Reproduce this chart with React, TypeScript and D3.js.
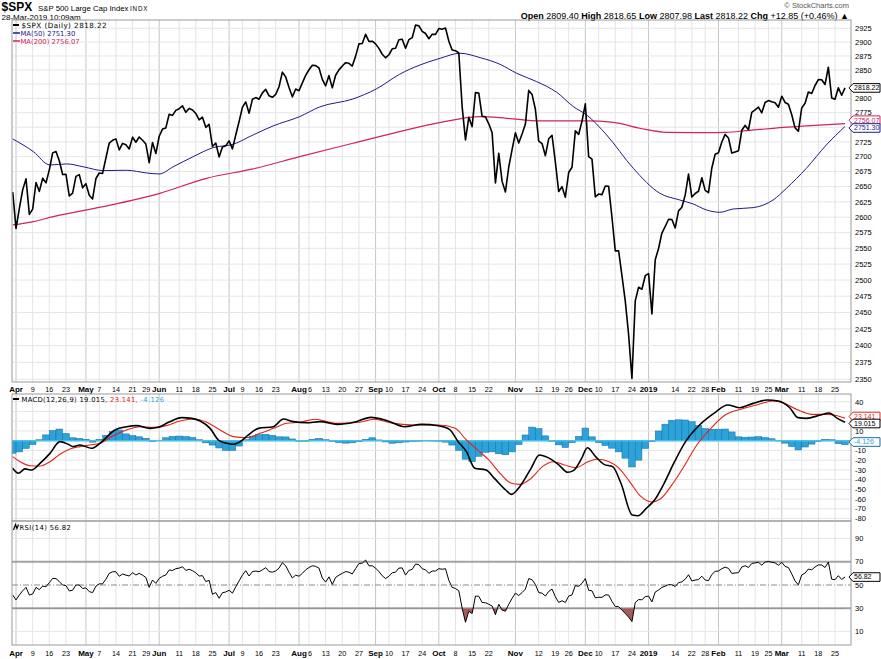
import React from "react";
import * as d3 from "d3";

// ---------------- DATA ----------------
// S&P 500 daily closes, trading-day index 0 = 29-Mar-2018 ... 250 = 28-Mar-2019
const priceClose: number[] = [
  2640.87,
  2581.88, 2614.45, 2644.69, 2662.84, 2604.47, 2613.16, 2656.87, 2642.19, 2663.99, 2656.3,
  2677.84, 2706.39, 2708.64, 2693.13, 2670.14, 2670.29, 2634.56, 2639.4, 2666.94, 2669.91, 2648.05,
  2654.8, 2635.67, 2629.73, 2663.42, 2672.63, 2671.92, 2697.79, 2723.07, 2727.72, 2730.13, 2711.45,
  2722.46, 2720.13, 2712.97, 2733.01, 2724.44, 2733.29, 2727.76, 2721.33, 2689.86, 2724.01, 2705.27,
  2734.62, 2746.87, 2748.8, 2772.35, 2770.37, 2779.03, 2782.0, 2786.85, 2775.63, 2782.49, 2779.66,
  2773.75, 2762.59, 2767.32, 2749.76, 2754.88, 2717.07, 2723.06, 2699.63, 2716.31, 2718.37,
  2726.71, 2713.22, 2736.61, 2759.82, 2784.17, 2793.84, 2774.02, 2798.29, 2801.31, 2798.43, 2809.55,
  2815.62, 2804.49, 2801.83, 2806.98, 2820.4, 2846.07, 2837.44, 2818.82, 2802.6, 2816.29,
  2813.36, 2827.22, 2840.35, 2850.4, 2858.45, 2857.7, 2853.58, 2833.28, 2821.93, 2839.96, 2818.37,
  2840.69, 2850.13, 2857.05, 2862.96, 2861.82, 2856.98, 2874.69, 2896.74, 2897.52, 2914.04, 2901.13, 2901.52,
  2896.72, 2888.6, 2878.05, 2871.68, 2877.13, 2887.89, 2888.92, 2904.18, 2904.98, 2888.8, 2904.31,
  2907.95, 2930.75, 2929.67, 2919.37, 2915.56, 2905.97, 2914.0, 2913.98,
  2924.59, 2923.43, 2925.51, 2901.61, 2885.57, 2884.43, 2880.34, 2785.68, 2728.37, 2767.13, 2750.79,
  2809.92, 2809.21, 2768.78, 2767.78, 2755.88, 2740.69, 2656.1, 2705.57, 2658.69, 2641.25, 2682.63, 2711.74,
  2740.37, 2723.06, 2738.31, 2755.45, 2813.89, 2806.83, 2781.01, 2726.22, 2722.18, 2701.58, 2730.2,
  2736.27, 2690.73, 2641.89, 2649.93, 2632.56, 2673.45, 2682.17, 2743.79, 2737.8, 2760.17,
  2790.37, 2700.06, 2695.95, 2633.08, 2637.72, 2636.78, 2651.07, 2650.54, 2599.95, 2545.94, 2546.16,
  2506.96, 2467.42, 2416.62, 2351.1, 2467.7, 2488.83, 2485.74, 2506.85,
  2510.03, 2447.89, 2531.94, 2549.69, 2574.41, 2584.96, 2596.64, 2596.26, 2582.61, 2610.3, 2616.1,
  2635.96, 2670.71, 2632.9, 2638.7, 2642.33, 2664.76, 2643.85, 2640.0, 2681.05, 2704.1,
  2706.53, 2724.87, 2737.7, 2731.61, 2706.05, 2707.88, 2709.8, 2744.73, 2753.03, 2745.73, 2775.6,
  2779.76, 2784.7, 2774.88, 2792.67, 2796.11, 2793.9, 2792.38, 2784.49,
  2803.69, 2792.81, 2789.65, 2771.45, 2748.93, 2743.07, 2783.3, 2791.52, 2810.92, 2808.48, 2822.48,
  2832.94, 2832.57, 2824.23, 2854.88, 2800.71, 2798.36, 2818.46, 2805.37, 2818.22,
];

// [trading-day index, value]
const ma50Points: [number, number][] = [
  [0, 2730], [6.2, 2708.5], [11.2, 2686], [16.2, 2687.8], [21.2, 2683], [27.2, 2676.6], [34.2, 2677.2],
  [40.2, 2672.7], [44, 2671], [48.2, 2683], [54.2, 2700], [60.2, 2715.2], [66.2, 2720.9], [72.2, 2736.8],
  [78.2, 2752.2], [86.2, 2768.3], [92.2, 2785], [102.2, 2798.9], [109.2, 2816.4], [116.2, 2842.3],
  [128.4, 2870.8], [134.4, 2879.8], [140.4, 2872], [146.4, 2860], [151.4, 2844], [157.4, 2829.3],
  [163.4, 2810.6], [168.4, 2785.6], [172.4, 2771.1], [178.4, 2736.8], [186.4, 2680.5], [194.4, 2639],
  [200.4, 2628], [204.4, 2621.5], [208.4, 2611.7], [212.4, 2608], [216.4, 2613.3], [222.4, 2615.5],
  [228.4, 2628], [232.4, 2647.2], [238.4, 2680.5], [244.4, 2719.8], [250, 2751.3],
];

const ma200Points: [number, number][] = [
  [0, 2587.4], [6.2, 2592.8], [12.2, 2600.9], [27.2, 2617.2], [44.2, 2639], [58.2, 2663.8],
  [72.2, 2679.4], [86.2, 2700], [102.2, 2722.6], [116.2, 2742.5], [128.2, 2757.9], [140.4, 2768.3],
  [148.4, 2765.4], [158.4, 2760.8], [172.4, 2760.8], [180.4, 2758.4], [188.4, 2748.2], [196.4, 2741.3],
  [208.4, 2740.8], [214.4, 2741.3], [220.4, 2744.2], [228.4, 2748.2], [238.4, 2752.2], [250, 2756.07],
];

const macdPoints: [number, number][] = [
  [0, -28.4], [1.7, -33.5], [3.7, -29], [5.7, -30.1], [8.2, -23.3], [11.2, -13], [14.2, -1], [16.7, -3.7],
  [18.2, -6.1], [20.2, -4.4], [23.7, -7.8], [26.2, -2.7], [30.7, 11], [34.2, 14.4], [37.2, 15.5],
  [41.2, 12.7], [43.8, 13.8], [46.8, 18.9], [50.8, 23.7], [53.8, 23], [56.3, 20.3], [59.3, 12.7],
  [61.8, 0.7], [64.3, -2.7], [66.3, -3.7], [68.3, -1], [70.8, 5.9], [73.8, 12.7], [78.3, 14.4],
  [81.3, 22.3], [84.3, 19.6], [88.2, 18.5], [92.4, 19.6], [97.5, 16.8], [102.5, 18.9], [107.6, 24],
  [112.7, 20.3], [117.7, 14.4], [122.8, 16.8], [127.9, 15.4], [131.2, 11.7], [133.8, -1], [136.3, -11.3],
  [138.8, -28.4], [142.2, -30.1], [144.7, -38.7], [148.1, -50.7], [149.8, -55.2], [152.3, -47.3],
  [155.7, -28.4], [158.2, -14.7], [160.8, -17.4], [164.1, -25], [166.7, -32.5], [168.4, -30.8],
  [170.9, -18.1], [172.6, -7.2], [175.1, -16.4], [177.6, -24.3], [180.2, -26.7], [182.7, -43.8],
  [186.1, -76.4], [187.8, -77.1], [190.3, -69.6], [192.8, -61], [195.4, -45.6], [198.8, -21.6],
  [202.1, -1], [206.3, 16.1], [210.6, 28.1], [214.8, 36.7], [218.2, 33.9], [222.4, 38.4], [226.6, 41.8],
  [230, 40.8], [233.4, 33.9], [235.9, 23.7], [238.4, 23], [242.6, 26.4], [245.2, 28.5], [247.7, 23],
  [250, 19.015],
];

const signalPoints: [number, number][] = [
  [0, -16.4], [2.2, -21.6], [5.2, -25.7], [8.2, -26], [11.2, -21.6], [14.2, -14], [17.2, -8.5],
  [20.2, -6.1], [23.2, -4.4], [26.2, -2.7], [30.2, 5.2], [34.2, 11], [38.2, 14.4], [42.2, 13.8],
  [46.2, 15.5], [50.3, 20.3], [54.3, 22.3], [58.3, 18.9], [62.3, 11], [66.3, 4.2], [70.3, 3.1],
  [74.3, 7.6], [78.3, 12.7], [82.3, 17.9], [86.3, 18.9], [90.7, 22], [97.5, 17.8], [104.2, 18.9],
  [108.4, 22], [114.4, 17.8], [121.1, 16.1], [127.9, 16.1], [132.9, 12.7], [136.3, 0.7], [139.7, -9.6],
  [143, -19.8], [146.4, -33.6], [149.8, -43.8], [152.3, -44.9], [155.7, -38.7], [159.1, -26.7],
  [162.4, -21.6], [165.8, -25], [169.2, -27.7], [172.6, -22], [175.5, -19], [179, -21.5], [182, -28],
  [185.3, -42], [188.6, -57], [192, -63], [194.5, -60], [197.9, -46], [201.3, -28.4], [205.5, -4.4],
  [209.7, 12.7], [214, 26.4], [219, 32.6], [224.1, 37.4], [228.3, 40.8], [231.7, 38.4], [235.9, 31.6],
  [240.1, 27.1], [244.3, 27.1], [247.7, 25.7], [250, 23.141],
];

// histogram, one bar every two trading days
const histPoints: [number, number][] = [
  [0, -13], [2, -11.5], [4, -8], [6, -4], [8, 1], [10, 6], [12, 10.5], [14, 12], [16, 7.5], [18, 3],
  [20, 2.4], [22, 1.5], [24, -1.5], [26, 1.5], [28, 5.5], [30, 9.5], [32, 11], [34, 7], [36, 5.3],
  [38, 4], [40, 2.5], [42, -0.8], [44, 0.5], [46, 3], [48, 4.4], [50, 4.8], [52, 4.3], [54, 3.3],
  [56, 1], [58, -2.2], [60, -4.5], [62, -7.5], [64, -10], [66, -10], [68, -5.5], [70, 1], [72, 4.8],
  [74, 6.2], [76, 6.6], [78, 5.5], [80, 4], [82, 3.9], [84, 1.8], [86, 0], [88, -0.2], [90, 1.5],
  [92, 2.4], [94, 1], [96, -0.8], [98, -1.9], [100, -2.5], [102, -2.2], [104, -1.1], [106, 1.5],
  [108, 3], [110, 0.8], [112, -1.3], [114, -2.6], [116, -2.2], [118, -1.4], [120, -0.8], [122, -0.2],
  [124, 0.4], [126, 0.2], [128, -0.3], [130, -1.5], [132, -4.5], [134, -10], [136, -19], [138, -21.6],
  [140, -16], [142, -12], [144, -11.5], [146, -13.5], [148, -14.5], [150, -11.5], [152, -4], [154, 5.9],
  [156, 14], [158, 12.5], [160, 5], [162, 0], [164, -4.3], [166, -7], [168, -2], [170, 4.5], [172, 13],
  [174, 4], [176, -2], [178, -5], [180, -7.7], [182, -11.5], [184, -18], [186, -27], [188, -20],
  [190, -8], [192, -1], [194, 10], [196, 17], [198, 21], [200, 21.5], [202, 21.3], [204, 19.5],
  [206, 15.5], [208, 12.5], [210, 11.8], [212, 11.8], [214, 12], [216, 9], [218, 4], [220, 3.6],
  [222, 3.8], [224, 4.2], [226, 3.2], [228, 2], [230, 0.2], [232, -2.5], [234, -6], [236, -9.5],
  [238, -6.5], [240, -3.5], [242, -0.8], [244, 1.5], [246, 1], [248, -3], [250, -4.1],
];

const rsiPoints: [number, number][] = [
  [0, 41.4], [1, 37.2], [2, 41.4], [3, 45], [4, 48], [5, 41.4], [6, 42.3], [7, 48], [8, 46], [9, 49.1],
  [10, 48.5], [11, 52], [12, 55.7], [13, 55.5], [14, 53], [15, 50], [16, 49.5], [17, 44.9], [18, 45.5],
  [19, 50], [20, 50], [21, 47], [22, 47.5], [23, 44.3], [24, 43.5], [25, 49], [26, 51], [27, 51],
  [28, 55], [29, 60], [30, 61.4], [31, 61.4], [32, 57.5], [33, 59.4], [34, 58.5], [35, 57.7], [36, 60.6],
  [37, 58.6], [38, 60], [39, 58.5], [40, 56.5], [41, 48], [42, 54.3], [43, 51.4], [44, 55.7], [45, 57.5],
  [46, 58.6], [47, 62.9], [48, 62.5], [49, 64], [50, 64.5], [51, 65.7], [52, 62.5], [53, 63.5],
  [54, 62.3], [55, 60.5], [56, 57.7], [57, 58], [58, 53], [59, 54], [60, 42], [61, 43.5], [62, 38.6],
  [63, 43.4], [64, 44], [65, 45.5], [66, 43], [67, 48.5], [68, 53.5], [69, 58.5], [70, 62.3], [71, 57.7],
  [72, 61.5], [73, 62], [74, 61.4], [75, 63], [76, 64.9], [77, 61.5], [78, 61], [79, 62], [80, 64.5],
  [81, 69.1], [82, 66.5], [83, 61], [84, 56], [85, 58.5], [86, 57.5], [87, 60], [88, 63], [89, 65],
  [90, 66.5], [91, 66], [92, 64.5], [93, 56], [94, 52.5], [95, 57], [96, 50.5], [97, 56.5], [98, 58.5],
  [99, 60], [100, 61.5], [101, 61], [102, 59.5], [103, 64], [104, 68.5], [105, 68.7], [106, 71.4],
  [107, 66.5], [108, 66.5], [109, 64.5], [110, 61.5], [111, 58], [112, 55.5], [113, 57.5], [114, 60.5],
  [115, 61], [116, 64.5], [117, 64.7], [118, 58.5], [119, 62.5], [120, 63.5], [121, 68], [122, 67.5],
  [123, 64], [124, 63], [125, 60], [126, 62], [127, 62], [128, 64], [129, 63.5], [130, 64], [131, 54],
  [132, 48], [133, 47], [134, 45], [135, 30], [136, 18], [137, 27.5], [138, 25.5], [139, 40.5],
  [140, 40.3], [141, 35], [142, 34.8], [143, 33.5], [144, 32], [145, 24.5], [146, 33.5], [147, 28.5],
  [148, 27.5], [149, 33.5], [150, 38.5], [151, 43], [152, 41], [153, 43.5], [154, 46.5], [155, 55.5],
  [156, 54.5], [157, 50.5], [158, 43.5], [159, 43], [160, 40.5], [161, 44.5], [162, 46.5], [163, 40],
  [164, 35], [165, 36.5], [166, 35], [167, 40.5], [168, 41.5], [169, 49.5], [170, 48.8], [171, 51.5],
  [172, 55.5], [173, 45.5], [174, 45], [175, 39], [176, 39.5], [177, 39.4], [178, 41.5], [179, 41.4],
  [180, 36], [181, 31.5], [182, 31.5], [183, 28.5], [184, 25.5], [185, 22.5], [186, 18.6], [187, 35],
  [188, 37.5], [189, 37.3], [190, 40], [191, 40.5], [192, 35.5], [193, 44], [194, 45.7], [195, 48],
  [196, 49], [197, 50.3], [198, 50.2], [199, 48.7], [200, 52], [201, 52.7], [202, 55], [203, 58.8],
  [204, 53.5], [205, 54.2], [206, 54.7], [207, 57.5], [208, 54.3], [209, 53.7], [210, 59], [211, 61.7],
  [212, 62], [213, 64], [214, 65.3], [215, 64.3], [216, 60], [217, 60.3], [218, 60.6], [219, 65.5],
  [220, 66.5], [221, 65], [222, 68.5], [223, 69], [224, 69.5], [225, 67], [226, 69.7], [227, 70.2],
  [228, 69.5], [229, 69], [230, 67], [231, 69.5], [232, 66], [233, 65], [234, 59.5], [235, 53.5],
  [236, 50.2], [237, 58.6], [238, 60.2], [239, 63.7], [240, 63], [241, 65.5], [242, 67.3], [243, 67.2],
  [244, 65], [245, 69.7], [246, 55], [247, 54.5], [248, 58], [249, 54.8], [250, 56.82],
];

// [trading-day index, label, isMonth]
const dateTicks: [number, string, boolean][] = [
  [1, "Apr", true], [6, "9", false], [11, "16", false], [16, "23", false],
  [22, "May", true], [26, "7", false], [31, "14", false], [36, "21", false], [41, "29", false],
  [44, "Jun", true], [50, "11", false], [55, "18", false], [60, "25", false],
  [65, "Jul", true], [69, "9", false], [74, "16", false], [79, "23", false],
  [86, "Aug", true], [89, "6", false], [94, "13", false], [99, "20", false], [104, "27", false],
  [109, "Sep", true], [113, "10", false], [118, "17", false], [123, "24", false],
  [128, "Oct", true], [133, "8", false], [138, "15", false], [143, "22", false],
  [151, "Nov", true], [158, "12", false], [163, "19", false], [167, "26", false],
  [172, "Dec", true], [176, "10", false], [181, "17", false], [186, "24", false],
  [191, "2019", true], [199, "14", false], [204, "22", false], [208, "28", false],
  [212, "Feb", true], [218, "11", false], [223, "19", false], [227, "25", false],
  [231, "Mar", true], [237, "11", false], [242, "18", false], [247, "25", false],
];

const priceTicks = [2350, 2375, 2400, 2425, 2450, 2475, 2500, 2525, 2550, 2575, 2600, 2625, 2650, 2675,
  2700, 2725, 2750, 2775, 2800, 2825, 2850, 2875, 2900, 2925];
const macdTicks = [40, 30, 20, 10, 0, -10, -20, -30, -40, -50, -60, -70, -80];
const rsiTicks = [90, 70, 50, 30, 10];

const lastPrice = 2818.22;
const lastMa50 = 2751.3;
const lastMa200 = 2756.07;
const lastMacd = 19.015;
const lastSignal = 23.141;
const lastHist = -4.126;
const lastRsi = 56.82;

// ---------------- LAYOUT ----------------
const W = 881;
const H = 659;
const PL = 12;
const PR = 851;
const P_TOP = 20;
const P_BOT = 382;
const M_TOP = 394;
const M_BOT = 521;
const R_TOP = 521;
const R_BOT = 645;

const SANS = "'Liberation Sans', Arial, sans-serif";
const LEG = "'DejaVu Sans', Verdana, sans-serif";

const C_PRICE = "#000000";
const C_MA50 = "#1c1c8a";
const C_MA200 = "#d0245a";
const C_SIG = "#e2231a";
const C_HIST = "#2ba3da";
const C_HIST_EDGE = "#1b6d9c";

const x = d3.scaleLinear().domain([0, 250]).range([12.7, 845]);
const yP = d3.scaleLog().domain([2350, 2925]).range([379.3, 28.3]);
const yM = d3.scaleLinear().domain([-80, 40]).range([518.5, 401.8]);
const yR = d3.scaleLinear().domain([30, 70]).range([608.3, 561.7]);

const MONTH_FS = 8;
const DAY_FS = 7.2;

function Tag(props: { y: number; text: string; stroke: string; color: string }) {
  const { y, text, stroke, color } = props;
  const x0 = 849;
  const d = `M${x0},${y} L${x0 + 4},${y - 4.3} L${x0 + 31},${y - 4.3} L${x0 + 31},${y + 4.3} L${x0 + 4},${y + 4.3} Z`;
  return (
    <g>
      <path d={d} fill="#fff" stroke={stroke} strokeWidth={1} />
      <text x={x0 + 5} y={y + 2.4} fontFamily={SANS} fontSize={7} fill={color}>{text}</text>
    </g>
  );
}

// approximate label width, used only to nudge day labels away from month labels
function labelWidth(lab: string, month: boolean) {
  return lab.length * (month ? MONTH_FS * 0.62 : DAY_FS * 0.556);
}

function labelX(k: number) {
  const [i, lab, month] = dateTicks[k];
  let cx = x(i);
  if (!month) {
    const next = dateTicks[k + 1];
    if (next && next[2]) {
      const nLeft = x(next[0]) - labelWidth(next[1], true) / 2;
      const right = cx + labelWidth(lab, false) / 2;
      if (right > nLeft - 1.5) cx -= right - (nLeft - 1.5);
    }
    const prev = dateTicks[k - 1];
    if (prev && prev[2]) {
      const pRight = x(prev[0]) + labelWidth(prev[1], true) / 2;
      const left = cx - labelWidth(lab, false) / 2;
      if (left < pRight + 1.5) cx += pRight + 1.5 - left;
    }
  }
  return cx;
}

function DateAxis(props: { y: number }) {
  return (
    <g>
      {dateTicks.map(([i, lab, month], k) => (
        <text key={lab + i} x={labelX(k)} y={props.y} textAnchor="middle" fontFamily={SANS}
          fontSize={month ? MONTH_FS : DAY_FS} fontWeight={month ? "bold" : "normal"} fill="#000">
          {lab}
        </text>
      ))}
    </g>
  );
}

function VGrid(props: { top: number; bottom: number }) {
  return (
    <g>
      {dateTicks.map(([i, , month]) => (
        <line key={"g" + i} x1={x(i)} x2={x(i)} y1={props.top} y2={props.bottom}
          stroke={month ? "#c6c6c6" : "#e4e4e4"} strokeWidth={1} />
      ))}
    </g>
  );
}

// axis labels hidden by value tags (as on the reference)
function visibleTicks(ticks: number[], scale: (v: number) => number, tagYs: number[]) {
  return ticks.filter((v) => tagYs.every((t) => Math.abs(scale(v) - t) > 5));
}

export default function App() {
  const pricePath = d3.line<number>().x((_, i) => x(i)).y((d) => yP(d))(priceClose) || "";
  const ma50Path = d3.line<[number, number]>().x((d) => x(d[0])).y((d) => yP(d[1])).curve(d3.curveMonotoneX)(ma50Points) || "";
  const ma200Path = d3.line<[number, number]>().x((d) => x(d[0])).y((d) => yP(d[1])).curve(d3.curveMonotoneX)(ma200Points) || "";
  const macdPath = d3.line<[number, number]>().x((d) => x(d[0])).y((d) => yM(d[1])).curve(d3.curveMonotoneX)(macdPoints) || "";
  const sigPath = d3.line<[number, number]>().x((d) => x(d[0])).y((d) => yM(d[1])).curve(d3.curveMonotoneX)(signalPoints) || "";
  const rsiPath = d3.line<[number, number]>().x((d) => x(d[0])).y((d) => yR(d[1]))(rsiPoints) || "";
  const rsiArea = d3.area<[number, number]>().x((d) => x(d[0])).y0(yR(30)).y1((d) => yR(d[1]))(rsiPoints) || "";

  const step = x(1) - x(0);

  const tagPrice = yP(lastPrice);
  const tagMa200 = yP(lastMa200) - 3.5;
  const tagMa50 = yP(lastMa50) + 1.5;
  const tagSig = yM(lastSignal) - 1.7;
  const tagMacd = yM(lastMacd) + 1.3;
  const tagHist = yM(lastHist) - 2.7;
  const tagRsi = yR(lastRsi);

  return (
    <div style={{ position: "fixed", left: 0, top: 0, width: W, height: H, background: "#fff" }}>
      <svg width={W} height={H} viewBox={`0 0 ${W} ${H}`} style={{ display: "block" }}>
        <defs>
          <clipPath id="clipP"><rect x={PL} y={P_TOP} width={PR - PL} height={P_BOT - P_TOP} /></clipPath>
          <clipPath id="clipM"><rect x={PL} y={M_TOP} width={PR - PL} height={M_BOT - M_TOP} /></clipPath>
          <clipPath id="clipR"><rect x={PL} y={R_TOP} width={PR - PL} height={R_BOT - R_TOP} /></clipPath>
          <clipPath id="clipOS"><rect x={PL} y={yR(30)} width={PR - PL} height={R_BOT - yR(30)} /></clipPath>
        </defs>
        <rect x={0} y={0} width={W} height={H} fill="#fff" />

        {/* ---------- header ---------- */}
        <text x={1.5} y={10.5} fontFamily={SANS} fontSize={12} fontWeight="bold">$SPX</text>
        <text x={38} y={10.5} fontFamily={SANS} fontSize={7.8}>S&amp;P 500 Large Cap Index</text>
        <text x={130} y={10.5} fontFamily={SANS} fontSize={6.3} letterSpacing={0.8}>INDX</text>
        <text x={1.5} y={20} fontFamily={SANS} fontSize={8}>28-Mar-2019 10:09am</text>
        <text x={849} y={7.5} textAnchor="end" fontFamily={SANS} fontSize={7.5} fill="#555">© StockCharts.com</text>
        <text x={849} y={18.5} textAnchor="end" fontFamily={SANS} fontSize={9}>
          <tspan fontWeight="bold">Open</tspan> 2809.40 <tspan fontWeight="bold">High</tspan> 2818.65{" "}
          <tspan fontWeight="bold">Low</tspan> 2807.98 <tspan fontWeight="bold">Last</tspan> 2818.22{" "}
          <tspan fontWeight="bold">Chg</tspan> +12.85 (+0.46%) ▲
        </text>

        {/* ---------- price panel ---------- */}
        <VGrid top={P_TOP} bottom={P_BOT} />
        {priceTicks.map((v) => (
          <line key={"pg" + v} x1={PL} x2={PR} y1={yP(v)} y2={yP(v)} stroke="#e6e6e6" strokeWidth={1} />
        ))}
        <g clipPath="url(#clipP)">
          <path d={ma200Path} fill="none" stroke={C_MA200} strokeWidth={1.2} />
          <path d={ma50Path} fill="none" stroke={C_MA50} strokeWidth={1} />
          <path d={pricePath} fill="none" stroke={C_PRICE} strokeWidth={1.6} strokeLinejoin="round" />
        </g>
        <rect x={PL} y={P_TOP} width={PR - PL} height={P_BOT - P_TOP} fill="none" stroke="#9a9a9a" strokeWidth={1} />
        {visibleTicks(priceTicks, yP, [tagPrice, tagMa200, tagMa50]).map((v) => (
          <text key={"pt" + v} x={855} y={yP(v) + 2.7} fontFamily={SANS} fontSize={7.5}>{v}</text>
        ))}
        <Tag y={tagMa200} text={lastMa200.toFixed(2)} stroke={C_MA200} color={C_MA200} />
        <Tag y={tagMa50} text={lastMa50.toFixed(2)} stroke={C_MA50} color={C_MA50} />
        <Tag y={tagPrice} text={lastPrice.toFixed(2)} stroke="#000" color="#000" />

        {/* legend */}
        <line x1={13} x2={19} y1={25} y2={25} stroke="#000" strokeWidth={2} />
        <text x={21.5} y={27.6} fontFamily={LEG} fontSize={7.2} letterSpacing={0.45}>$SPX (Daily) {lastPrice.toFixed(2)}</text>
        <line x1={13} x2={20} y1={33} y2={33} stroke={C_MA50} strokeWidth={1.5} />
        <text x={20.5} y={35.6} fontFamily={LEG} fontSize={6.8} fill={C_MA50}>MA(50) {lastMa50.toFixed(2)}</text>
        <line x1={13} x2={20} y1={41} y2={41} stroke={C_MA200} strokeWidth={1.5} />
        <text x={20.5} y={43.6} fontFamily={LEG} fontSize={6.8} fill={C_MA200}>MA(200) {lastMa200.toFixed(2)}</text>

        <DateAxis y={392} />

        {/* ---------- MACD panel ---------- */}
        <VGrid top={M_TOP} bottom={M_BOT} />
        {macdTicks.map((v) => (
          <line key={"mg" + v} x1={PL} x2={PR} y1={yM(v)} y2={yM(v)} stroke="#e6e6e6" strokeWidth={1} />
        ))}
        <g clipPath="url(#clipM)">
          {histPoints.map(([i, v]) => {
            const y0 = yM(0);
            const y1 = yM(v);
            return (
              <rect key={"h" + i} x={x(i) - step} width={step * 2} y={Math.min(y0, y1)}
                height={Math.max(0.5, Math.abs(y1 - y0))} fill={C_HIST} stroke={C_HIST_EDGE} strokeWidth={0.5} />
            );
          })}
          <line x1={PL} x2={PR} y1={yM(0)} y2={yM(0)} stroke="#45c0ea" strokeWidth={1.6} />
          <path d={sigPath} fill="none" stroke={C_SIG} strokeWidth={1.1} />
          <path d={macdPath} fill="none" stroke="#000" strokeWidth={1.6} />
        </g>
        <rect x={PL} y={M_TOP} width={PR - PL} height={M_BOT - M_TOP} fill="none" stroke="#9a9a9a" strokeWidth={1} />
        {visibleTicks(macdTicks, yM, [tagSig, tagMacd, tagHist]).map((v) => (
          <text key={"mt" + v} x={855} y={yM(v) + 2.7} fontFamily={SANS} fontSize={7.5}>{v}</text>
        ))}
        <Tag y={tagSig} text={lastSignal.toFixed(3)} stroke={C_SIG} color={C_SIG} />
        <Tag y={tagMacd} text={lastMacd.toFixed(3)} stroke="#000" color="#000" />
        <Tag y={tagHist} text={lastHist.toFixed(3)} stroke={C_HIST_EDGE} color={C_HIST} />
        <line x1={13} x2={19} y1={399} y2={399} stroke="#000" strokeWidth={2} />
        <text x={21.5} y={401.5} fontFamily={LEG} fontSize={6.8} letterSpacing={0.3}>
          MACD(12,26,9) {lastMacd.toFixed(3)},{" "}
          <tspan fill={C_SIG}>{lastSignal.toFixed(3)},</tspan>{" "}
          <tspan fill={C_HIST}>{lastHist.toFixed(3)}</tspan>
        </text>

        {/* ---------- RSI panel ---------- */}
        <VGrid top={R_TOP} bottom={R_BOT} />
        {[10, 90].map((v) => (
          <line key={"rg" + v} x1={PL} x2={PR} y1={yR(v)} y2={yR(v)} stroke="#e6e6e6" strokeWidth={1} />
        ))}
        <line x1={PL} x2={PR} y1={yR(70)} y2={yR(70)} stroke="#a3a3a3" strokeWidth={2} />
        <line x1={PL} x2={PR} y1={yR(30)} y2={yR(30)} stroke="#a3a3a3" strokeWidth={2} />
        <line x1={PL} x2={PR} y1={yR(50)} y2={yR(50)} stroke="#8a8a8a" strokeWidth={1} strokeDasharray="6,2,1,2" />
        <g clipPath="url(#clipR)">
          <path d={rsiArea} fill="#9c4a4a" fillOpacity={0.9} clipPath="url(#clipOS)" />
          <path d={rsiPath} fill="none" stroke="#000" strokeWidth={1} strokeLinejoin="round" />
        </g>
        <rect x={PL} y={R_TOP} width={PR - PL} height={R_BOT - R_TOP} fill="none" stroke="#9a9a9a" strokeWidth={1} />
        {visibleTicks(rsiTicks, yR, [tagRsi]).map((v) => (
          <text key={"rt" + v} x={855} y={yR(v) + 2.7} fontFamily={SANS} fontSize={7.5}>{v}</text>
        ))}
        <Tag y={tagRsi} text={lastRsi.toFixed(2)} stroke="#000" color="#000" />
        <path d="M13.5,530 L15.5,524.5 L17,528.5 L18.5,524.5" fill="none" stroke="#000" strokeWidth={1.2} />
        <text x={19.5} y={529.5} fontFamily={LEG} fontSize={6.8} letterSpacing={0.4}>RSI(14) {lastRsi.toFixed(2)}</text>

        <DateAxis y={655.5} />
      </svg>
    </div>
  );
}
